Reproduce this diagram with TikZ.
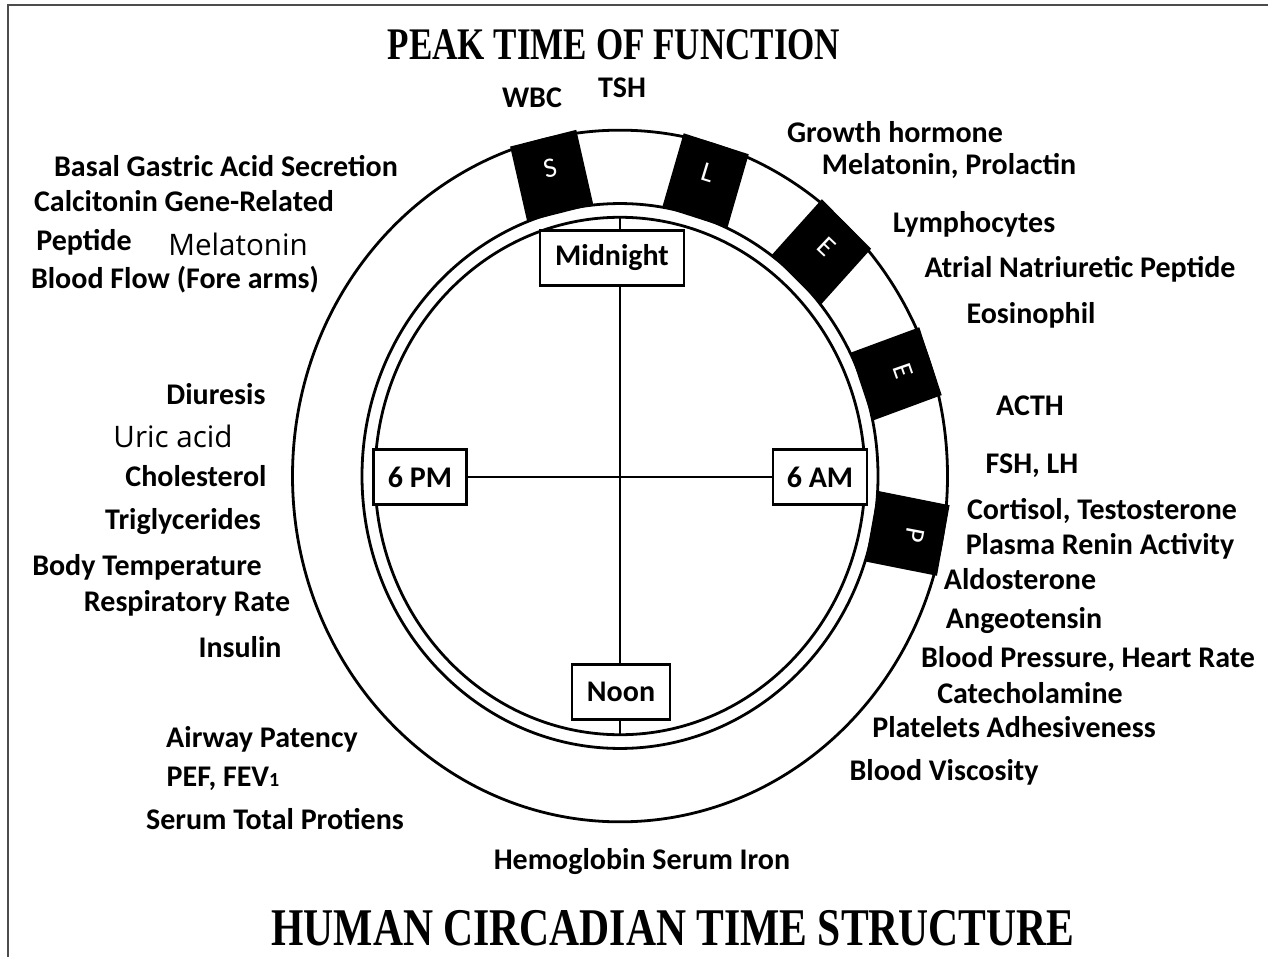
\documentclass[tikz,border=0pt]{standalone}
\usepackage{fontspec}
\usepackage{graphicx}
\setmainfont{Carlito}
\newfontfamily\titlefont{Liberation Serif}
\newfontfamily\plainfont{Open Sans}
\begin{document}
\begin{tikzpicture}[x=0.5pt, y=-0.5pt,
	ring/.style={line width=1.4pt},
	cross/.style={line width=1.2pt},
	time node/.style={rectangle,draw,fill=white,line width=1.2pt,minimum height=27.5pt,inner xsep=6pt,font=\bfseries\fontsize{15}{18}\selectfont},
	fn/.style={inner sep=0pt,font=\bfseries\fontsize{15}{18}\selectfont},
	fn plain/.style={inner sep=0pt,font=\plainfont\fontsize{14.8}{17}\selectfont},
	peak letter/.style={text=white,inner sep=0pt,font=\fontsize{14}{16}\selectfont},
	title/.style={inner sep=0pt,font=\titlefont\bfseries}]
	\useasboundingbox (0,0) rectangle (1268,957);
	\draw[line width=1pt, black!70] (8,957) -- (8,5) -- (1268,5);
	
	\begin{scope}[shift={(620,476)}, yscale=1.056]
		\draw[ring] (0,0) circle (327.5);
		\draw[ring] (0,0) circle (258);
		\draw[ring] (0,0) circle (245);
		\foreach \ang/\letter [count=\i] in {-13.5/S, 17/L, 43.5/E, 70.7/E, 100.7/P} {
			\begin{scope}[rotate=-\ang]
				\fill (-34,-329) rectangle (34,-256);
				\node[peak letter, rotate=-\ang] (peak\i) at (0,-300) {\letter};
			\end{scope}
		}
	\end{scope}
	
	\coordinate (top) at (620,217);
	\coordinate (bot) at (620,735);
	\coordinate (lft) at (375,477);
	\coordinate (rgt) at (865,477);
	\draw[cross] (top) -- (bot);
	\draw[cross] (lft) -- (rgt);
	
	\node[time node, minimum width=72pt] (mid) at (612,258) {Midnight};
	\node[time node, minimum width=46.5pt] (pm) at (420,477) {6 PM};
	\node[time node, minimum width=47pt] (am) at (820,477) {6 AM};
	\node[time node, minimum width=49pt] (noon) at (621,692) {Noon};
	
	\node[title] (peak) at (614,45) {\scalebox{0.775}[1]{\fontsize{22.6}{26}\selectfont PEAK TIME OF FUNCTION}};
	\node[title] (human) at (673,928) {\scalebox{0.785}[1]{\fontsize{26.5}{30}\selectfont HUMAN CIRCADIAN TIME STRUCTURE}};
	
	\node[fn] (wbc) at (532,98) {WBC};
	\node[fn] (tsh) at (622,88) {TSH};
	\node[fn] (gh) at (895,132) {Growth hormone};
	\node[fn] (mel) at (949,166) {Melatonin, Prolactin};
	\node[fn] (lym) at (974,224) {Lymphocytes};
	\node[fn] (anp) at (1080,269) {Atrial Natriuretic Peptide};
	\node[fn] (eos) at (1031,315) {Eosinophil};
	\node[fn] (acth) at (1030,406) {ACTH};
	\node[fn] (fsh) at (1032,466) {FSH, LH};
	\node[fn] (cort) at (1102,511) {Cortisol, Testosterone};
	\node[fn] (renin) at (1100,546) {Plasma Renin Activity};
	\node[fn] (aldo) at (1020,579) {Aldosterone};
	\node[fn] (ang) at (1024,621) {Angeotensin};
	\node[fn] (bp) at (1088,659) {Blood Pressure, Heart Rate};
	\node[fn] (cat) at (1030,693) {Catecholamine};
	\node[fn] (plat) at (1014,727) {Platelets Adhesiveness};
	\node[fn] (visc) at (944,772) {Blood Viscosity};
	\node[fn] (hb) at (642,862) {Hemoglobin Serum Iron};
	
	\node[fn] (gast) at (226,166) {Basal Gastric Acid Secretion};
	\node[fn] (cgrp) at (184,201) {Calcitonin Gene-Related};
	\node[fn] (pept) at (84,242) {Peptide};
	\node[fn plain] (mel2) at (238,244) {Melatonin};
	\node[fn] (flow) at (175,280) {Blood Flow (Fore arms)};
	\node[fn] (diur) at (216,394) {Diuresis};
	\node[fn plain] (uric) at (173,436) {Uric acid};
	\node[fn] (chol) at (196,476) {Cholesterol};
	\node[fn] (trig) at (183,522) {Triglycerides};
	\node[fn] (temp) at (147,567) {Body Temperature};
	\node[fn] (resp) at (187,603) {Respiratory Rate};
	\node[fn] (ins) at (240,647) {Insulin};
	\node[fn] (air) at (262,739) {Airway Patency};
	\node[fn] (pef) at (223,779) {PEF, FEV{\fontsize{10}{12}\selectfont 1}};
	\node[fn] (prot) at (275,819) {Serum Total Protiens};
\end{tikzpicture}
\end{document}
